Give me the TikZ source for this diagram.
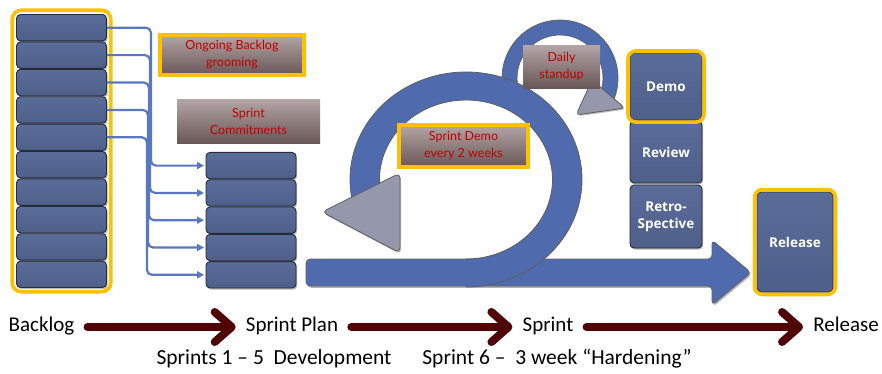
\documentclass[tikz,border=0pt]{standalone}
\usepackage{fontspec}
\setmainfont{Carlito}
\newfontfamily\notefont{Lato}
\newfontfamily\stagefont{Open Sans}
\usetikzlibrary{arrows.meta,shadows,fit}
\definecolor{boxtop}{HTML}{5A6C98}
\definecolor{boxbot}{HTML}{4E5F8A}
\definecolor{boxedge}{HTML}{262B3A}
\definecolor{ringblue}{HTML}{4F6AAD}
\definecolor{ringedge}{HTML}{5F5F5F}
\definecolor{trigray}{HTML}{9597AA}
\definecolor{gold}{HTML}{FFC000}
\definecolor{gradtop}{HTML}{B3A6A6}
\definecolor{gradbot}{HTML}{6A5656}
\definecolor{redtext}{HTML}{C00000}
\definecolor{linkblue}{HTML}{5A78C2}
\definecolor{maroon}{HTML}{500404}
\begin{document}
\begin{tikzpicture}[x=1pt,y=-1pt,
  blk/.style={rectangle, rounded corners=4pt, draw=boxedge, line width=0.9pt,
    top color=boxtop, bottom color=boxbot, inner sep=0pt,
    drop shadow={shadow xshift=1.2pt, shadow yshift=-1.6pt, opacity=0.55}},
  backbox/.style={blk, minimum width=90pt, minimum height=26.4pt},
  stagebox/.style={blk, minimum width=72pt, text=white,
    font=\stagefont\bfseries\fontsize{13.5}{17}\selectfont, align=center},
  note/.style={rectangle, top color=gradtop, bottom color=gradbot, text=redtext,
    font=\notefont\fontsize{12.5}{17}\selectfont, align=center, inner sep=0pt},
  goldnote/.style={note, draw=gold, line width=4pt},
  goldframe/.style={draw=gold, line width=3.6pt, rounded corners=#1},
  link/.style={draw=linkblue, line width=2.2pt, rounded corners=5pt,
    -{Triangle[length=7pt,width=7pt]}, shorten >=1.5pt},
  phasetext/.style={font=\fontsize{21}{24}\selectfont, text height=13pt, text depth=4pt, inner sep=0pt},
  phase/.style={draw=maroon, line width=8pt, line cap=round,
    -{Straight Barb[round,length=17pt,width=30pt]}, shorten <=13pt, shorten >=10pt},
  ringline/.style={draw=ringedge, line width=0.8pt}
]
\useasboundingbox (0,0) rectangle (882,373);
\fill[white] (0,0) rectangle (882,373);

% main sprint bar with arrow head
\path[fill=ringblue, draw=ringedge, line width=0.7pt, rounded corners=4pt,
  drop shadow={shadow xshift=1.2pt, shadow yshift=-1.8pt, opacity=0.6}]
  (306,259) -- (712,259) -- (712,240) -- (751,272.5) -- (712,305) -- (712,286) -- (306,286) -- cycle;

% small daily loop
\filldraw[fill=ringblue, draw=ringedge, line width=0.7pt]
  (509.77,107) arc[start angle=150, end angle=390, radius=58]
  -- (597.24,99.5) arc[start angle=390, end angle=150, radius=43] -- cycle;

% big sprint loop
\fill[ringblue] (466,287) arc[start angle=90, end angle=-195, x radius=116, y radius=107.5]
  -- (382.45,200.07) arc[start angle=-195, end angle=90, x radius=86.5, y radius=79.5] -- cycle;
\draw[ringline] (466,287) arc[start angle=90, end angle=-195, x radius=116, y radius=107.5];
\draw[ringline] (466,259) arc[start angle=90, end angle=-195, x radius=86.5, y radius=79.5];

% loop arrow heads
\filldraw[fill=trigray, draw=ringedge, line width=0.8pt, rounded corners=5pt,
  drop shadow={shadow xshift=1.2pt, shadow yshift=-1.6pt, opacity=0.5}]
  (322,212) -- (400,173) -- (400,253) -- cycle;
\filldraw[fill=trigray, draw=ringedge, line width=0.8pt, rounded corners=4pt,
  drop shadow={shadow xshift=1pt, shadow yshift=-1.4pt, opacity=0.5}]
  (576,115) -- (592,80) -- (625,108) -- cycle;

% notes
\node[goldnote, minimum width=144pt, minimum height=40pt] (groom) at (232,55) {Ongoing Backlog\\grooming};
\node[note, minimum width=143pt, minimum height=44pt] (commit) at (248.5,121) {Sprint\\Commitments};
\node[goldnote, minimum width=129pt, minimum height=42pt] (sdemo) at (463.5,146) {Sprint Demo\\every 2 weeks};
\node[note, minimum width=77pt, minimum height=43pt] (daily) at (561.5,66.5) {Daily\\standup};

% backlog column
\foreach \i in {1,...,10}
  \node[backbox] (b\i) at (61.5,{27.7+27.4*(\i-1)}) {};
\node[goldframe=9pt, fit=(b1)(b10), inner sep=3.8pt] (backframe) {};

% sprint plan stack
\foreach \i in {1,...,5}
  \node[backbox] (p\i) at (251,{165.6+27.3*(\i-1)}) {};

% connectors backlog -> sprint plan
\foreach \i in {1,...,5}
  \draw[link] (b\i.east) -- ++({45-\i},0) |- (p\i.west);

% demo / review / retrospective / release
\node[stagebox, minimum height=67pt] (demo) at (666,86.5) {Demo};
\node[stagebox, minimum height=62pt] (review) at (666,152) {Review};
\node[stagebox, minimum height=63pt] (retro) at (666,216.5) {Retro-\\Spective};
\node[goldframe=8pt, fit=(demo), inner sep=1.6pt] (demoframe) {};
\node[stagebox, minimum width=76pt, minimum height=100pt] (release) at (795,242) {Release};
\node[goldframe=8pt, fit=(release), inner sep=2pt] (releaseframe) {};

% bottom phase line
\node[phasetext] (lb) at (41.5,327) {Backlog};
\node[phasetext] (lp) at (292,327) {Sprint Plan};
\node[phasetext] (ls) at (548,327) {Sprint};
\node[phasetext] (lr) at (846,327) {Release};
\draw[phase] (lb) -- (lp);
\draw[phase] (lp) -- (ls);
\draw[phase] (ls) -- (lr);
\node[phasetext, font=\fontsize{21.5}{24}\selectfont] (dev) at (274,360) {Sprints 1 – 5\ \ Development};
\node[phasetext, font=\fontsize{21.5}{24}\selectfont] (hard) at (557,360) {Sprint 6 –\ \ 3 week “Hardening”};
\end{tikzpicture}
\end{document}
